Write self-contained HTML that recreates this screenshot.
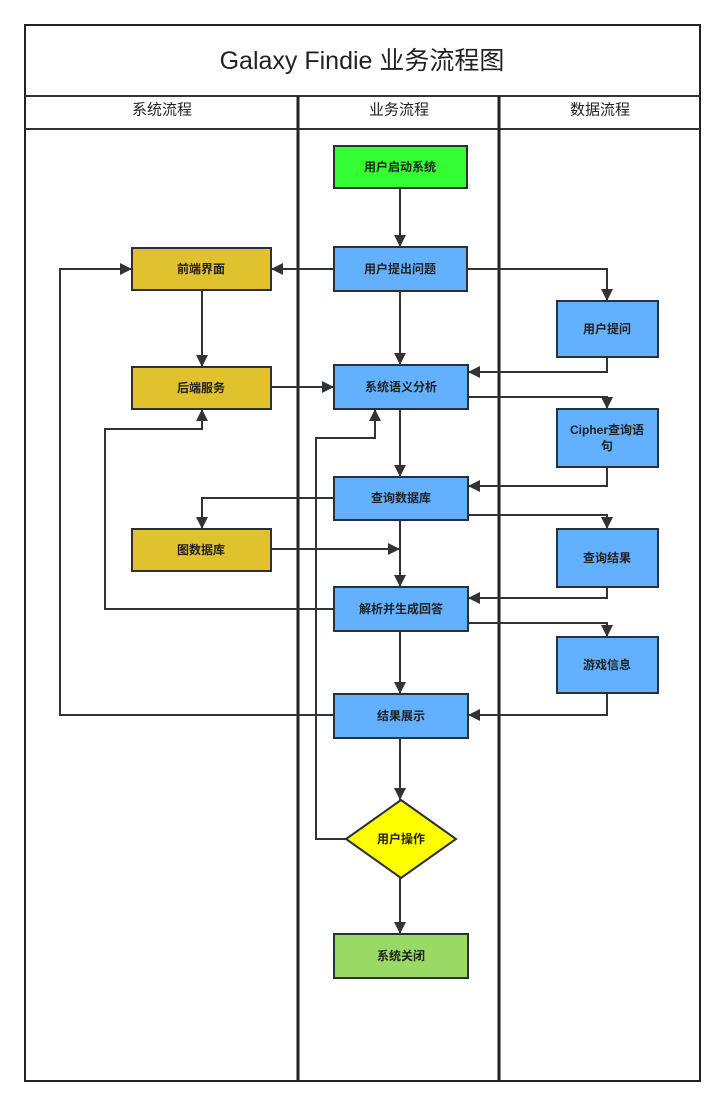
<!DOCTYPE html>
<html><head><meta charset="utf-8"><style>
html,body{margin:0;padding:0;background:#fff;width:725px;height:1106px;overflow:hidden}
text{font-family:"Liberation Sans","Noto Sans CJK SC",sans-serif;fill:#222}
.n{font-size:12px;font-weight:bold;text-anchor:middle;dominant-baseline:central}
.h{font-size:15px;text-anchor:middle;dominant-baseline:central}
.c{fill:none;stroke:#333;stroke-width:2}
.b{stroke:#2b3038;stroke-width:2}
</style></head><body>
<svg width="725" height="1106" xmlns="http://www.w3.org/2000/svg">
<defs><marker id="a" markerWidth="14" markerHeight="14" refX="12" refY="6" orient="auto" markerUnits="userSpaceOnUse"><path d="M0,0 L12,6 L0,12 Z" fill="#333"/></marker></defs>
<rect x="25" y="25" width="675" height="1056" fill="#fff" stroke="#222" stroke-width="2"/>
<line x1="25" y1="96" x2="700" y2="96" stroke="#333" stroke-width="2"/>
<line x1="25" y1="129" x2="700" y2="129" stroke="#333" stroke-width="2"/>
<line x1="298" y1="96" x2="298" y2="1081" stroke="#222" stroke-width="3"/>
<line x1="499" y1="96" x2="499" y2="1081" stroke="#222" stroke-width="3"/>
<text x="362" y="61" style="font-size:25px;text-anchor:middle;dominant-baseline:central">Galaxy Findie 业务流程图</text>
<text class="h" x="162" y="110">系统流程</text>
<text class="h" x="399" y="110">业务流程</text>
<text class="h" x="600" y="110">数据流程</text>

<g marker-end="url(#a)" class="c">
<path d="M400,188 V247"/>
<path d="M334,269 H271"/>
<path d="M400,291 V365"/>
<path d="M467,269 H607 V301"/>
<path d="M607,357 V372 H468"/>
<path d="M468,397 H607 V409"/>
<path d="M607,467 V486 H468"/>
<path d="M468,515 H607 V529"/>
<path d="M607,587 V598 H468"/>
<path d="M468,623 H607 V637"/>
<path d="M607,693 V715 H468"/>
<path d="M202,290 V367"/>
<path d="M271,387 H334"/>
<path d="M400,409 V477"/>
<path d="M334,498 H202 V529"/>
<path d="M271,549 H400"/>
<path d="M400,520 V587"/>
<path d="M334,609 H105 V429 H202 V409"/>
<path d="M400,631 V694"/>
<path d="M334,715 H60 V269 H132"/>
<path d="M400,738 V800"/>
<path d="M346,839 H316 V438 H375 V409"/>
<path d="M400,878 V934"/>
</g>

<g class="b">
<rect x="334" y="146" width="133" height="42" fill="#33ff33"/>
<rect x="334" y="247" width="133" height="44" fill="#63b0fe"/>
<rect x="334" y="365" width="134" height="44" fill="#63b0fe"/>
<rect x="334" y="477" width="134" height="43" fill="#63b0fe"/>
<rect x="334" y="587" width="134" height="44" fill="#63b0fe"/>
<rect x="334" y="694" width="134" height="44" fill="#63b0fe"/>
<path d="M401,800 L456,839 L401,878 L346,839 Z" fill="#ffff00"/>
<rect x="334" y="934" width="134" height="44" fill="#99d966"/>
<rect x="132" y="248" width="139" height="42" fill="#e0c22e"/>
<rect x="132" y="367" width="139" height="42" fill="#e0c22e"/>
<rect x="132" y="529" width="139" height="42" fill="#e0c22e"/>
<rect x="557" y="301" width="101" height="56" fill="#63b0fe"/>
<rect x="557" y="409" width="101" height="58" fill="#63b0fe"/>
<rect x="557" y="529" width="101" height="58" fill="#63b0fe"/>
<rect x="557" y="637" width="101" height="56" fill="#63b0fe"/>
</g>
<text class="n" x="400" y="167">用户启动系统</text>
<text class="n" x="400" y="269">用户提出问题</text>
<text class="n" x="401" y="387">系统语义分析</text>
<text class="n" x="401" y="498">查询数据库</text>
<text class="n" x="401" y="609">解析并生成回答</text>
<text class="n" x="401" y="716">结果展示</text>
<text class="n" x="401" y="839">用户操作</text>
<text class="n" x="401" y="956">系统关闭</text>
<text class="n" x="201" y="269">前端界面</text>
<text class="n" x="201" y="388">后端服务</text>
<text class="n" x="201" y="550">图数据库</text>
<text class="n" x="607" y="329">用户提问</text>
<text class="n" x="607" y="430">Cipher查询语</text>
<text class="n" x="607" y="446">句</text>
<text class="n" x="607" y="558">查询结果</text>
<text class="n" x="607" y="665">游戏信息</text>
</svg>
</body></html>
